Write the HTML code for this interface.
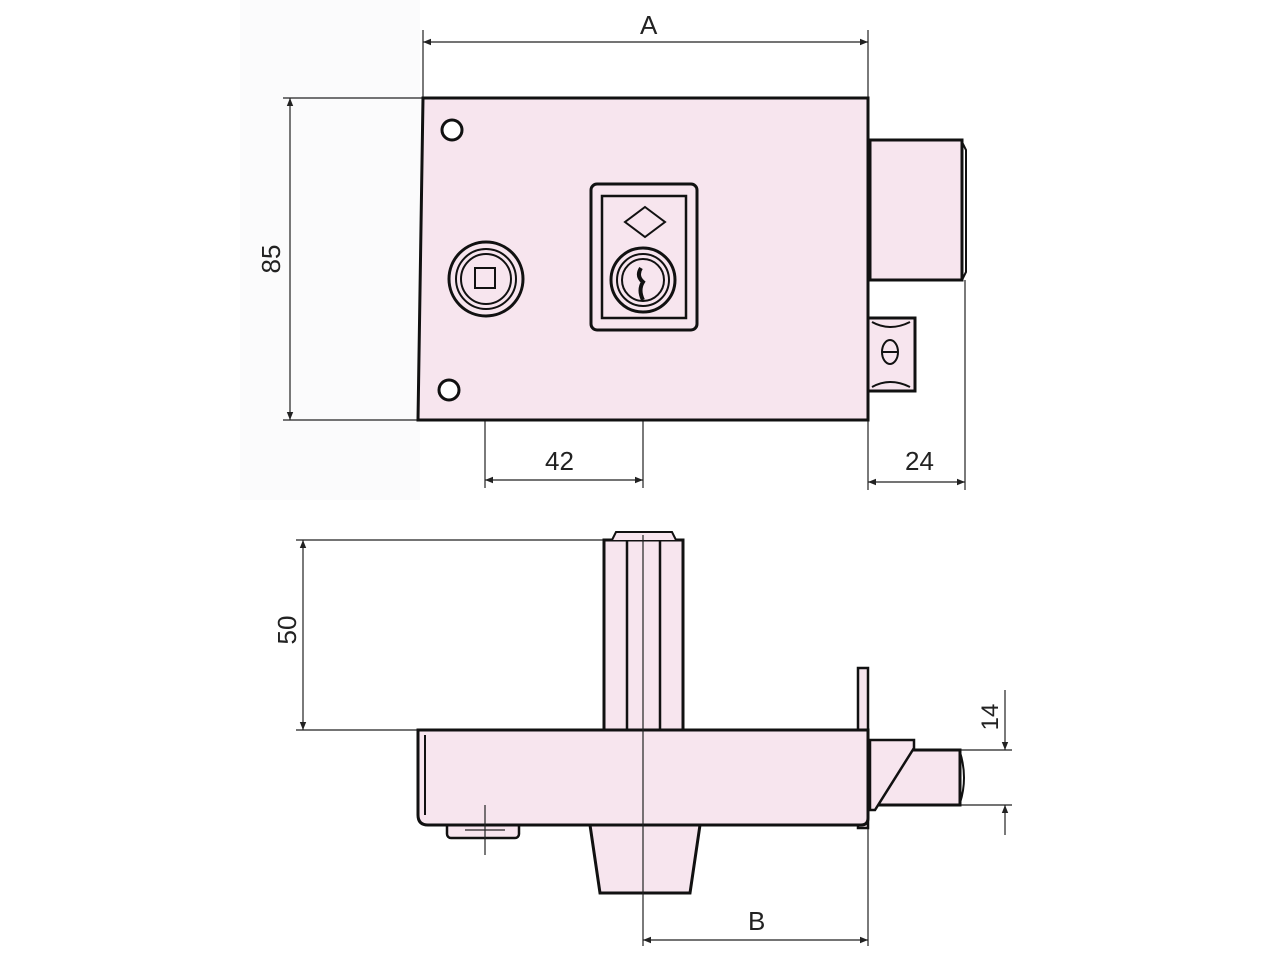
<!DOCTYPE html>
<html><head><meta charset="utf-8"><style>
html,body{margin:0;padding:0;background:#fff;}
svg{display:block;}
text{font-family:"Liberation Sans",sans-serif;font-size:26px;fill:#222;}
</style></head><body>
<svg width="1280" height="960" viewBox="0 0 1280 960" xmlns="http://www.w3.org/2000/svg">
<defs>
<marker id="a" viewBox="0 0 10 10" refX="10" refY="5" markerWidth="12" markerHeight="8" orient="auto-start-reverse" markerUnits="userSpaceOnUse"><path d="M0,1 L10,5 L0,9 z" fill="#222"/></marker>
</defs>
<rect x="240" y="0" width="180" height="500" fill="#fbfbfc"/>
<g stroke="#222" stroke-width="1.2" fill="none">
<line x1="423" y1="30" x2="423" y2="98"/><line x1="868" y1="30" x2="868" y2="98"/>
<line x1="423" y1="42" x2="868" y2="42" marker-start="url(#a)" marker-end="url(#a)"/>
<line x1="283" y1="98" x2="423" y2="98"/><line x1="283" y1="420" x2="418" y2="420"/>
<line x1="290" y1="98" x2="290" y2="420" marker-start="url(#a)" marker-end="url(#a)"/>
<line x1="485" y1="220" x2="485" y2="488"/><line x1="643" y1="185" x2="643" y2="488"/>
<line x1="485" y1="480" x2="643" y2="480" marker-start="url(#a)" marker-end="url(#a)"/>
<line x1="965" y1="280" x2="965" y2="490"/><line x1="868" y1="420" x2="868" y2="490"/>
<line x1="868" y1="482" x2="965" y2="482" marker-start="url(#a)" marker-end="url(#a)"/>
<line x1="296" y1="540" x2="604" y2="540"/><line x1="296" y1="730" x2="418" y2="730"/>
<line x1="303" y1="540" x2="303" y2="730" marker-start="url(#a)" marker-end="url(#a)"/>
<line x1="960" y1="750" x2="1012" y2="750"/><line x1="960" y1="805" x2="1012" y2="805"/>
<line x1="1005" y1="690" x2="1005" y2="750" marker-end="url(#a)"/>
<line x1="1005" y1="835" x2="1005" y2="805" marker-end="url(#a)"/>
<line x1="868" y1="825" x2="868" y2="946"/>
<line x1="643" y1="940" x2="868" y2="940" marker-start="url(#a)" marker-end="url(#a)"/>
</g>
<text x="640" y="34">A</text>
<text x="545" y="470">42</text>
<text x="905" y="470">24</text>
<text x="748" y="930">B</text>
<text transform="translate(280,259) rotate(-90)" text-anchor="middle" x="0" y="0">85</text>
<text transform="translate(296,630) rotate(-90)" text-anchor="middle">50</text>
<text transform="translate(998,717) rotate(-90)" text-anchor="middle" style="font-size:24px">14</text>
<g stroke="#111" stroke-width="3" fill="#f7e5ee">
<rect x="870" y="140" width="92" height="140"/>
<path d="M962 142 L966 150 L966 272 L962 280" fill="none" stroke-width="2"/>
<rect x="868" y="318" width="47" height="73"/>
<path d="M872 322 Q890 332 910 322 M872 387 Q890 377 910 387" fill="none" stroke-width="2"/>
<ellipse cx="890" cy="352" rx="8" ry="12" fill="none" stroke-width="2"/>
<line x1="882" y1="352" x2="898" y2="352" stroke-width="2"/>
<path d="M423 98 L868 98 L868 420 L418 420 Z"/>
<circle cx="452" cy="130" r="10" fill="#fff"/>
<circle cx="449" cy="390" r="10" fill="#fff"/>
<circle cx="486" cy="279" r="37"/>
<circle cx="486" cy="279" r="30" stroke-width="2"/>
<circle cx="486" cy="279" r="25" stroke-width="2"/>
<rect x="475" y="268" width="20" height="20" stroke-width="2"/>
<rect x="591" y="184" width="106" height="146" rx="6"/>
<rect x="602" y="196" width="84" height="122" stroke-width="2.5"/>
<path d="M645 207 L665 222 L645 237 L625 222 Z" stroke-width="2"/>
<circle cx="643" cy="280" r="32"/>
<circle cx="643" cy="280" r="26" stroke-width="2"/>
<circle cx="643" cy="280" r="21" stroke-width="2"/>
<path d="M641 268 Q636 276 643 282 Q638 290 643 300" fill="none" stroke-width="4"/>
<rect x="604" y="540" width="79" height="190"/>
<path d="M612 540 L616 532 L672 532 L676 540" stroke-width="2"/>
<rect x="858" y="668" width="10" height="160" stroke-width="2.5"/>
<rect x="870" y="750" width="90" height="55"/>
<path d="M960 752 Q968 778 960 803" fill="none" stroke-width="2"/>
<path d="M870 740 L914 740 L914 748 L875 810 L870 810 Z" stroke-width="2.5"/>
<rect x="447" y="820" width="72" height="18" rx="4" stroke-width="2.5"/>
<path d="M590 825 L700 825 L690 893 L600 893 Z"/>
<path d="M418 730 L868 730 L868 818 Q868 825 861 825 L428 825 Q418 825 418 815 Z"/>
<line x1="425" y1="735" x2="425" y2="815" stroke-width="2"/>
<line x1="627" y1="540" x2="627" y2="730" stroke-width="2.5"/>
<line x1="660" y1="540" x2="660" y2="730" stroke-width="2.5"/>
</g>
<g stroke="#222" stroke-width="1.2">
<line x1="643" y1="535" x2="643" y2="946"/>
<line x1="485" y1="805" x2="485" y2="855"/>
<line x1="465" y1="830" x2="505" y2="830"/>
</g>
</svg>
</body></html>
